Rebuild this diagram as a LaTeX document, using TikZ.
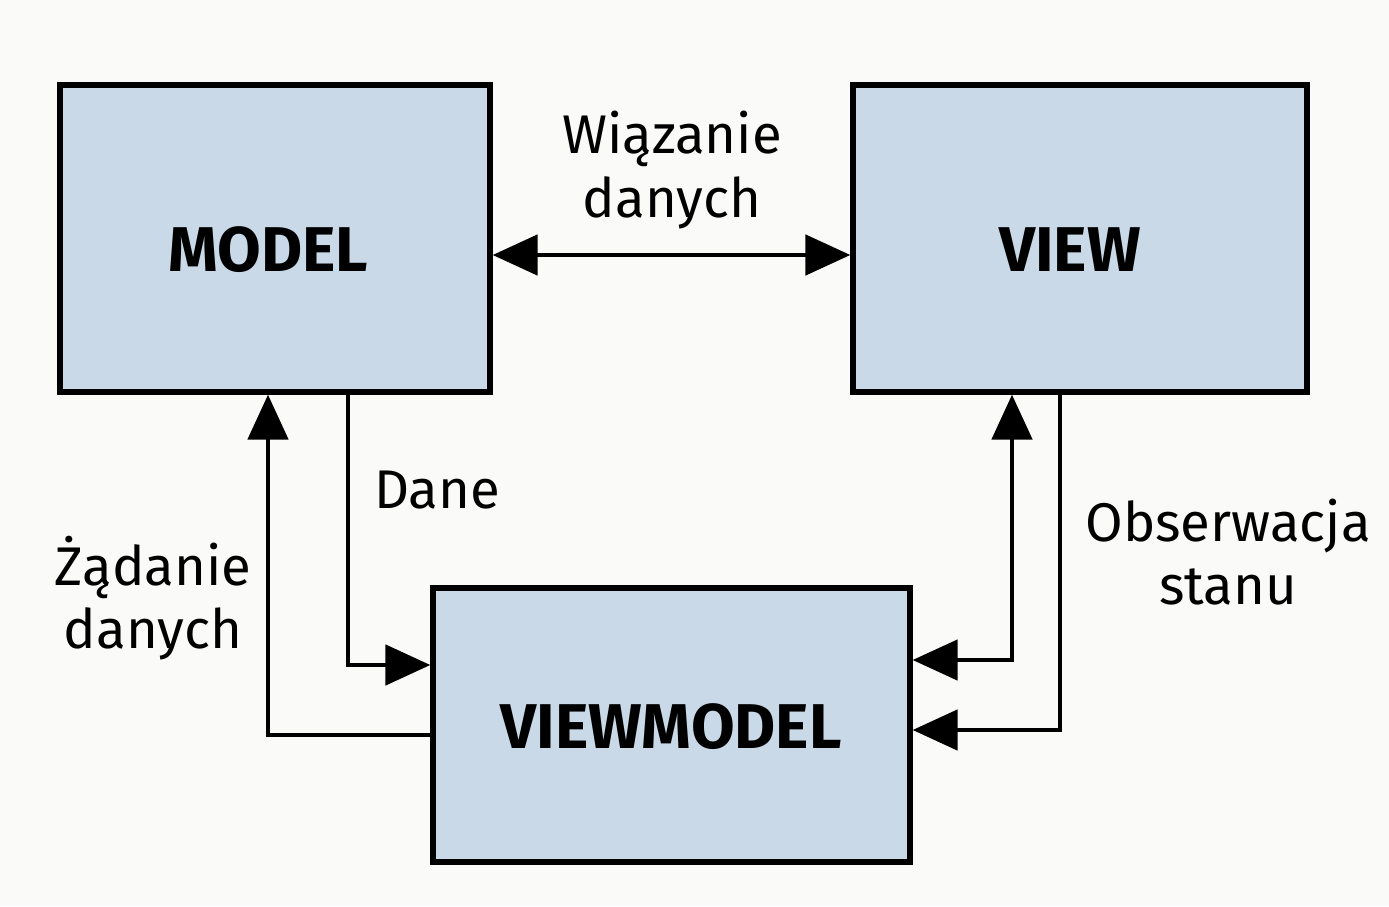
\documentclass[tikz,border=0pt]{standalone}
\usepackage{fontspec}
\setmainfont{Fira Sans}
\usetikzlibrary{arrows.meta}
\begin{document}
\begin{tikzpicture}[x=0.02cm,y=-0.02cm,
  box/.style={draw=black,line width=3pt,fill={rgb,255:red,201;green,217;blue,232},inner sep=0pt},
  lbl/.style={font=\fontsize{36}{40}\selectfont\bfseries},
  txt/.style={font=\fontsize{31}{36}\selectfont,align=center},
  con/.style={line width=2.8pt,-{Triangle[length=0.9cm,width=0.8cm]}},
  dcon/.style={line width=2.8pt,{Triangle[length=0.9cm,width=0.8cm]}-{Triangle[length=0.9cm,width=0.8cm]}}]
\useasboundingbox[fill={rgb,255:red,250;green,250;blue,248}] (0,0) rectangle (1389,906);
\node[box,minimum width=430*0.02cm,minimum height=307*0.02cm] (model) at (275,238.5) {};
\node[lbl] at (268,250) {MODEL};
\node[box,minimum width=454*0.02cm,minimum height=307*0.02cm] (view) at (1080,238.5) {};
\node[lbl] at (1070,250) {VIEW};
\node[box,minimum width=477*0.02cm,minimum height=274*0.02cm] (vm) at (671.5,725) {};
\node[lbl] at (671,727) {VIEWMODEL};
\coordinate (a1) at (348,665);
\coordinate (a2) at (268,735);
\coordinate (b1) at (1012,660);
\coordinate (b2) at (1060,730);
\draw[dcon] (model.east |- 0,255) -- (view.west |- 0,255);
\draw[con] (model.south -| a1) -- (a1) -- (vm.west |- a1);
\draw[con] (vm.west |- a2) -- (a2) -- (model.south -| a2);
\draw[dcon] (vm.east |- b1) -- (b1) -- (view.south -| b1);
\draw[con] (view.south -| b2) -- (b2) -- (vm.east |- b2);
\node[txt] (t1) at (672,170) {Wiązanie\\danych};
\node[txt] (t2) at (437,490) {Dane};
\node[txt] (t3) at (153,598) {Żądanie\\danych};
\node[txt] (t4) at (1228,552) {Obserwacja\\stanu};
\end{tikzpicture}
\end{document}
